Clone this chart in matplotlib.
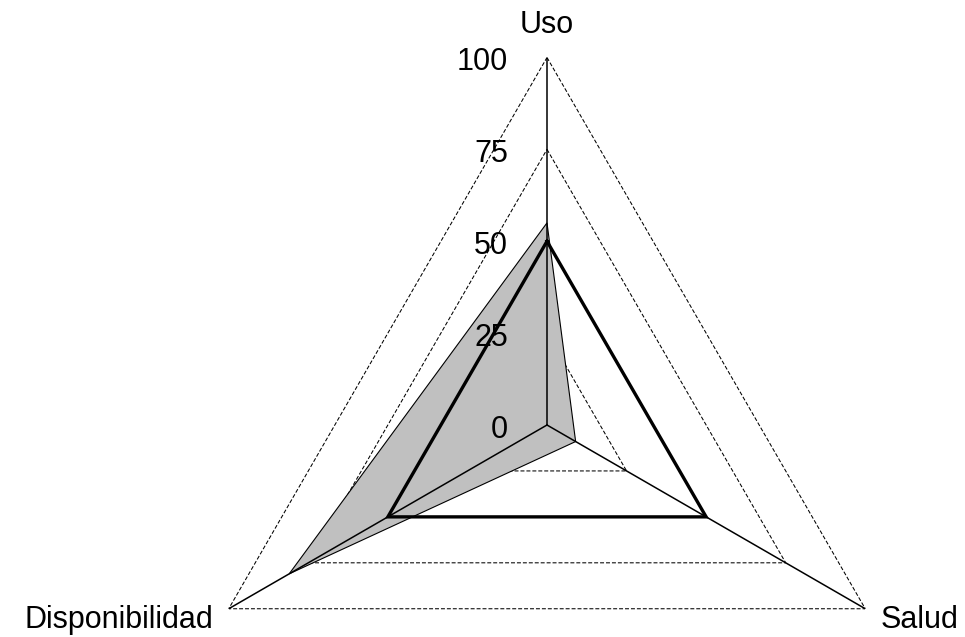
import numpy as np
import matplotlib
matplotlib.use('Agg')
import matplotlib.pyplot as plt
from matplotlib.transforms import offset_copy

# ---- data ----
categories = ['Uso', 'Salud', 'Disponibilidad']
serie_linea = [50, 50, 50]
serie_area = [55, 9, 81]
r_ticks = [0, 25, 50, 75, 100]
r_tick_labels = ['0', '25', '50', '75', '100']

plt.rcParams['font.family'] = ['Liberation Sans', 'DejaVu Sans']

W, H = 965, 637
fig = plt.figure(figsize=(W / 100, H / 100), dpi=100)
cx, cy, R = 547, 425, 367.5  # centre (px from top-left) and radius in px
ax = fig.add_axes([(cx - R) / W, (H - cy - R) / H, 2 * R / W, 2 * R / H],
                  projection='polar')
ax.set_theta_offset(np.pi / 2)
ax.set_theta_direction(-1)
ax.set_ylim(0, 100)
ax.set_axis_off()

n = len(categories)
theta = np.arange(n) * 2 * np.pi / n
theta_c = np.append(theta, theta[0])

# dashed triangular gridlines
for r in r_ticks[1:]:
    ax.plot(theta_c, [r] * (n + 1), color='black', lw=0.75,
            linestyle=(0, (3.8, 1.9)), zorder=1)

# filled series
area_c = np.append(serie_area, serie_area[0])
ax.fill(theta_c, area_c, facecolor='#C0C0C0', edgecolor='black', lw=0.8,
        zorder=2)

# spokes
for t in theta:
    ax.plot([t, t], [0, 100], color='black', lw=1.1, zorder=3)

# thick line series
line_c = np.append(serie_linea, serie_linea[0])
ax.plot(theta_c, line_c, color='black', lw=2.4, solid_joinstyle='miter',
        zorder=4)

fs = 22

# radial tick labels
tr = offset_copy(ax.transData, fig=fig, x=-39, y=-12.5, units='dots')
for r, lab in zip(r_ticks, r_tick_labels):
    ax.text(0, r, lab, transform=tr, ha='right', va='baseline',
            fontsize=fs, zorder=5)

# category labels
ax.text(theta[0], 100, categories[0],
        transform=offset_copy(ax.transData, fig=fig, x=0, y=24.5, units='dots'),
        ha='center', va='baseline', fontsize=fs)
ax.text(theta[1], 100, categories[1],
        transform=offset_copy(ax.transData, fig=fig, x=15, y=-19.5, units='dots'),
        ha='left', va='baseline', fontsize=fs)
ax.text(theta[2], 100, categories[2],
        transform=offset_copy(ax.transData, fig=fig, x=-15, y=-19.5, units='dots'),
        ha='right', va='baseline', fontsize=fs)

fig.savefig('out.png', dpi=100)
